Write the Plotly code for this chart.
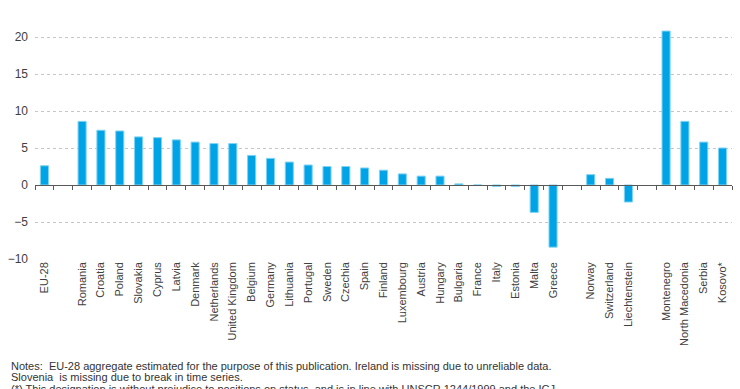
import plotly.graph_objects as go

categories = ["EU-28", "", "Romania", "Croatia", "Poland", "Slovakia", "Cyprus", "Latvia",
              "Denmark", "Netherlands", "United Kingdom", "Belgium", "Germany", "Lithuania",
              "Portugal", "Sweden", "Czechia", "Spain", "Finland", "Luxembourg", "Austria",
              "Hungary", "Bulgaria", "France", "Italy", "Estonia", "Malta", "Greece", "",
              "Norway", "Switzerland", "Liechtenstein", "", "Montenegro", "North Macedonia",
              "Serbia", "Kosovo*"]
values = [2.6, None, 8.6, 7.4, 7.3, 6.5, 6.4, 6.1,
          5.8, 5.6, 5.6, 4.0, 3.6, 3.1,
          2.7, 2.5, 2.5, 2.3, 2.0, 1.5, 1.2,
          1.2, 0.15, 0.0, -0.2, -0.2, -3.7, -8.4, None,
          1.4, 0.9, -2.3, None, 20.8, 8.6,
          5.8, 5.0]
y_ticks = [-10, -5, 0, 5, 10, 15, 20, 25]
notes = [
    "Notes:  EU-28 aggregate estimated for the purpose of this publication. Ireland is missing due to unreliable data.",
    "Slovenia  is missing due to break in time series.",
    "(*) This designation is without prejudice to positions on status, and is in line with UNSCR 1244/1999 and the ICJ",
]

FONT = "Liberation Sans, Arial, sans-serif"
idx = list(range(len(categories)))
y_min, y_max = -10, 25

fig = go.Figure()
fig.add_trace(go.Bar(
    x=idx, y=values, marker=dict(color="#00A3E6", line=dict(color="#7FD3F3", width=1)),
    width=0.43, hoverinfo="skip",
))
# invisible trace on the zero-line axis
fig.add_trace(go.Scatter(x=[idx[0], idx[-1]], y=[None, None], xaxis="x2", showlegend=False,
                         hoverinfo="skip", mode="markers"))

fig.update_layout(
    width=740, height=389,
    margin=dict(l=35, r=8, t=0, b=130, autoexpand=False),
    plot_bgcolor="white", paper_bgcolor="white",
    showlegend=False,
    font=dict(family=FONT, size=11, color="#404040"),
    xaxis=dict(
        range=[-0.5, len(categories) - 0.5], automargin=False,
        tickmode="array", tickvals=idx, ticktext=categories,
        tickangle=-90, showgrid=False, zeroline=False, showline=False, ticks="",
        tickfont=dict(size=11, color="#404040"),
    ),
    xaxis2=dict(
        overlaying="x", anchor="free", automargin=False,
        position=(0 - y_min) / (y_max - y_min),
        range=[-0.5, len(categories) - 0.5],
        tickmode="array", tickvals=[i - 0.5 for i in range(len(categories) + 1)],
        showticklabels=False, ticks="outside", ticklen=4, tickcolor="#595959", tickwidth=1,
        showline=True, linecolor="#595959", linewidth=1, showgrid=False, zeroline=False,
    ),
    yaxis=dict(
        range=[y_min, y_max], tickmode="array", tickvals=y_ticks, automargin=False,
        showgrid=True, gridcolor="#c6c6c6", griddash="dot", gridwidth=1,
        zeroline=False, showline=False, ticks="", ticklabelstandoff=6,
        tickfont=dict(size=12, color="#404040"),
    ),
)

plot_h = 389 - 130
plot_w = 740 - 35 - 8
for i, (txt, ypx) in enumerate(zip(notes, [366, 377, 389])):
    fig.add_annotation(
        text=txt, xref="paper", yref="paper", x=-26 / plot_w, y=(plot_h - ypx) / plot_h,
        xanchor="left", yanchor="middle", showarrow=False, align="left",
        font=dict(size=11, color="#333333", family=FONT),
    )

fig.write_html(
    "out.html",
    config={"displayModeBar": False},
    post_script="document.body.style.margin='0';document.body.style.overflow='hidden';",
)
